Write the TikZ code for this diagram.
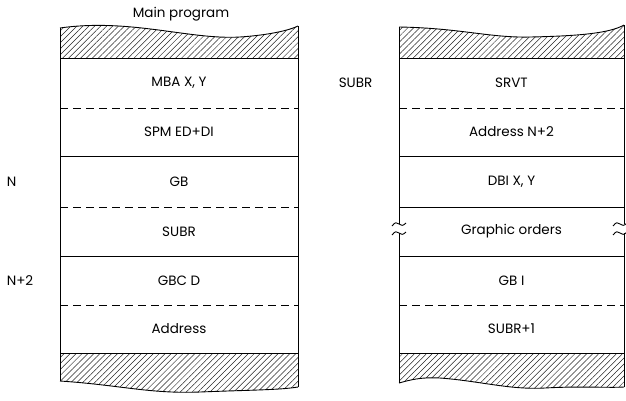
\documentclass[tikz,border=0pt]{standalone}
\usepackage{fontspec}
\setmainfont{Poppins}
\usetikzlibrary{patterns.meta}

\tikzset{
  cell/.style={font=\fontsize{13.5}{15}\selectfont},
  tag/.style={font=\fontsize{13.5}{15}\selectfont, anchor=west},
  hatch/.style={pattern={Lines[angle=45,distance=4.2pt,line width=0.5pt]}, pattern color=black!85},
  brk/.style={dash pattern=on 8pt off 5pt},
  squig/.pic={\draw (-7,2) .. controls (-4,-2) and (-2,-2) .. (0,0) .. controls (2,2) and (4,2) .. (7,-1);}
}

\begin{document}
\begin{tikzpicture}[x=1pt,y=-1pt,line width=0.9pt]
\useasboundingbox (0,0) rectangle (626,400);

% main program
\node [cell] (M) at (181,14) {Main program};
\fill [hatch] (60,28) .. controls (130,18) and (190,40) .. (240,37) .. controls (270,35) and (290,30) .. (298,26) -- (298,58) -- (60,58) -- cycle;
\fill [hatch] (60,353) -- (298,353) -- (298,387) .. controls (280,390) and (250,390) .. (200,392) .. controls (150,394) and (120,385) .. (60,381) -- cycle;
\draw (60,28) .. controls (130,18) and (190,40) .. (240,37) .. controls (270,35) and (290,30) .. (298,26);
\draw (60,381) .. controls (120,385) and (150,394) .. (200,392) .. controls (250,390) and (280,390) .. (298,387);
\draw (60,28) -- (60,381);
\draw (298,26) -- (298,387);
\draw (60,58) -- (298,58);
\draw [brk] (60,108) -- (298,108);
\draw (60,156) -- (298,156);
\draw [brk] (60,207) -- (298,207);
\draw (60,256) -- (298,256);
\draw [brk] (60,305) -- (298,305);
\draw (60,353) -- (298,353);

\node [cell] (A1) at (179,83) {MBA X, Y};
\node [cell] (A2) at (179,132) {SPM ED+DI};
\node [cell] (A3) at (179,181.5) {GB};
\node [cell] (A4) at (179,231.5) {SUBR};
\node [cell] (A5) at (179,280.5) {GBC D};
\node [cell] (A6) at (179,329) {Address};

\node [tag] (N) at (3,181.5) {N};
\node [tag] (N2) at (3,280.5) {N+2};

% subroutine
\node [tag] (S) at (335,83) {SUBR};
\fill [hatch] (399,27) .. controls (460,28) and (490,38) .. (530,37) .. controls (580,36) and (610,33) .. (624,25) -- (624,58) -- (399,58) -- cycle;
\fill [hatch] (399,353) -- (624,353) -- (624,387) .. controls (610,388) and (580,386) .. (545,388) .. controls (510,390) and (480,381) .. (440,378) .. controls (420,377) and (410,380) .. (399,383) -- cycle;
\draw (399,27) .. controls (460,28) and (490,38) .. (530,37) .. controls (580,36) and (610,33) .. (624,25);
\draw (399,383) .. controls (410,380) and (420,377) .. (440,378) .. controls (480,381) and (510,390) .. (545,388) .. controls (580,386) and (610,388) .. (624,387);
\draw (399,27) -- (399,224) (399,233) -- (399,383);
\draw (624,25) -- (624,224) (624,233) -- (624,387);
\pic at (399,224) {squig};
\pic at (399,233) {squig};
\pic at (620,224) {squig};
\pic at (620,233) {squig};
\draw (399,58) -- (624,58);
\draw [brk] (399,108) -- (624,108);
\draw (399,156) -- (624,156);
\draw (399,207) -- (624,207);
\draw (399,256) -- (624,256);
\draw [brk] (399,305) -- (624,305);
\draw (399,353) -- (624,353);

\node [cell] (B1) at (511.5,83) {SRVT};
\node [cell] (B2) at (511.5,132) {Address N+2};
\node [cell] (B3) at (511.5,181.5) {DBI X, Y};
\node [cell] (B4) at (511.5,231.5) {Graphic orders};
\node [cell] (B5) at (511.5,280.5) {GB I};
\node [cell] (B6) at (511.5,329) {SUBR+1};
\end{tikzpicture}
\end{document}
